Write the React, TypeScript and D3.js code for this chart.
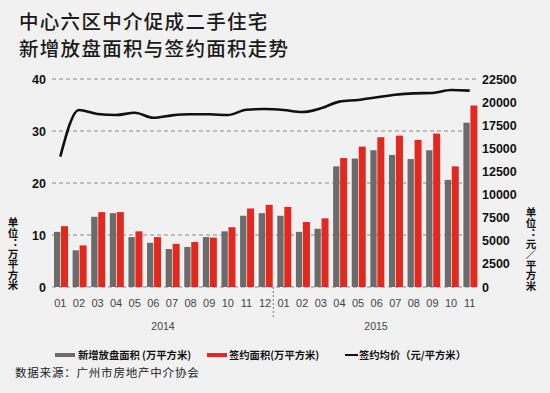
import React from "react";
import * as d3 from "d3";

const months = ["01","02","03","04","05","06","07","08","09","10","11","12","01","02","03","04","05","06","07","08","09","10","11"];
const newListing = [10.6,7.05,13.5,14.2,9.6,8.5,7.3,7.7,9.6,10.7,13.7,14.2,13.7,10.6,11.2,23.2,24.7,26.3,25.4,24.6,26.3,20.6,31.6];
const signedArea = [11.7,8.0,14.4,14.4,10.7,9.6,8.3,8.65,9.5,11.5,15.1,15.8,15.4,12.5,13.2,24.8,27.0,28.8,29.1,28.3,29.5,23.2,34.9];
const avgPrice = [14100,19150,18710,18600,18850,18310,18570,18680,18680,18600,19180,19250,19150,18930,19330,20050,20230,20520,20800,20950,20990,21310,21240];
const leftTicks = [0,10,20,30,40];
const rightTicks = [0,2500,5000,7500,10000,12500,15000,17500,20000,22500];
const years = ["2014","2015"];
const titleLines = ["中心六区中介促成二手住宅","新增放盘面积与签约面积走势"];
const legendLabels = ["新增放盘面积 (万平方米)","签约面积(万平方米)","签约均价（元/平方米）"];
const leftUnit = "单位：万平方米";
const rightUnit = "单位：元／平方米";
const source = "数据来源：广州市房地产中介协会";

const CJK = "'Noto Sans CJK SC', 'Noto Sans', sans-serif";
const NUM = "'Liberation Sans', Arial, sans-serif";

export default function App() {
  const W = 550, H = 393;
  const x = d3.scaleBand<number>().domain(d3.range(months.length)).range([51, 479]).padding(0);
  const yL = d3.scaleLinear().domain([0, 40]).range([287, 79]);
  const yR = d3.scaleLinear().domain([0, 22500]).range([287, 79]);
  const bw = x.bandwidth();
  const line = d3.line<number>()
    .x((_, i) => (x(i) as number) + bw / 2)
    .y((d) => yR(d))
    .curve(d3.curveMonotoneX);

  const vStyle: React.CSSProperties = { writingMode: "vertical-rl" as any, textOrientation: "upright" as any };

  return (
    <svg width={W} height={H} style={{ position: "absolute", left: 0, top: 0, background: "#f1f1f1" }}>
      <rect x={0} y={0} width={W} height={H} fill="#f1f1f1" />
      {titleLines.map((t, i) => (
        <text key={i} x={19} y={29 + i * 27} fontFamily={CJK} fontWeight={500} fontSize={19.5} letterSpacing={1.3} fill="#1a1a1a">{t}</text>
      ))}
      {leftTicks.map((t) => (
        <g key={t}>
          <line x1={52} x2={476} y1={yL(t)} y2={yL(t)} stroke="#888" strokeWidth={1} strokeDasharray="4,3" />
          <text x={46} y={yL(t) + 4.5} textAnchor="end" fontFamily={NUM} fontWeight="bold" fontSize={12.5} fill="#111">{t}</text>
        </g>
      ))}
      {rightTicks.map((t) => (
        <text key={t} x={482} y={yR(t) + 4.5} fontFamily={NUM} fontWeight="bold" fontSize={12.5} fill="#111">{t}</text>
      ))}
      {newListing.map((v, i) => (
        <rect key={"g" + i} x={(x(i) as number) + 3} y={yL(v)} width={6.3} height={yL(0) - yL(v)} fill="#6b6b6b" />
      ))}
      {signedArea.map((v, i) => (
        <rect key={"r" + i} x={(x(i) as number) + 10} y={yL(v)} width={7} height={yL(0) - yL(v)} fill="#e3281e" />
      ))}
      <path d={line(avgPrice) || ""} fill="none" stroke="#111" strokeWidth={2.6} />
      {months.map((m, i) => (
        <text key={"m" + i} x={(x(i) as number) + bw / 2} y={307} textAnchor="middle" fontFamily={NUM} fontSize={11} fill="#444">{m}</text>
      ))}
      <line x1={x(12) as number - 1} x2={x(12) as number - 1} y1={287} y2={318} stroke="#777" strokeWidth={1} strokeDasharray="2,2" />
      <text x={163} y={330} textAnchor="middle" fontFamily={NUM} fontSize={10.5} fill="#444">{years[0]}</text>
      <text x={376} y={330} textAnchor="middle" fontFamily={NUM} fontSize={10.5} fill="#444">{years[1]}</text>
      <text x={13} y={217} style={vStyle} fontFamily={CJK} fontWeight="bold" fontSize={10.5} fill="#111">{leftUnit}</text>
      <text x={531} y={207} style={vStyle} fontFamily={CJK} fontWeight="bold" fontSize={10.5} fill="#111">{rightUnit}</text>
      <rect x={55} y={353} width={20} height={4} fill="#6b6b6b" />
      <text x={78} y={359} fontFamily={CJK} fontWeight="bold" fontSize={10.3} fill="#111">{legendLabels[0]}</text>
      <rect x={207} y={353} width={20} height={4} fill="#e3281e" />
      <text x={229} y={359} fontFamily={CJK} fontWeight="bold" fontSize={10.3} fill="#111">{legendLabels[1]}</text>
      <line x1={345} x2={358} y1={355} y2={355} stroke="#111" strokeWidth={2} />
      <text x={359} y={359} fontFamily={CJK} fontWeight="bold" fontSize={10.3} fill="#111">{legendLabels[2]}</text>
      <text x={15} y={377} fontFamily={CJK} fontSize={11.5} letterSpacing={0.8} fill="#222">{source}</text>
    </svg>
  );
}
